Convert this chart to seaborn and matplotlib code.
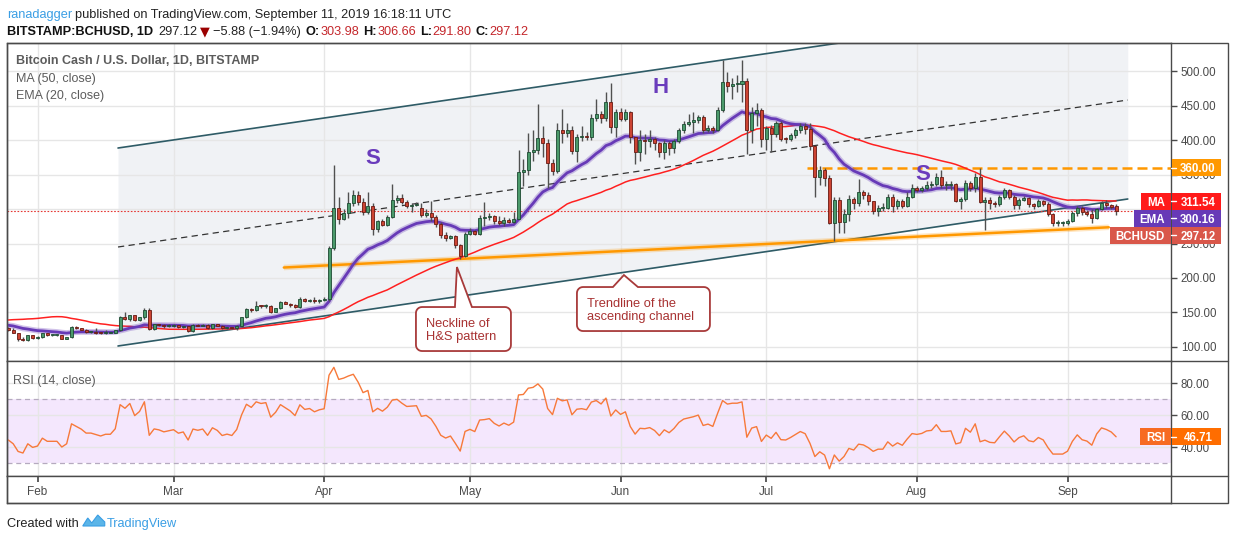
import numpy as np
import pandas as pd
import matplotlib
matplotlib.use("Agg")
import matplotlib.pyplot as plt
import seaborn as sns
from matplotlib.patches import Rectangle, Polygon
from matplotlib.transforms import Affine2D, blended_transform_factory
from matplotlib.ticker import FuncFormatter

W, H = 1234, 540

# ---------------- data ----------------
first_day = "2019-01-26"
# closes before the visible window (only used to warm up MA / EMA / RSI)
warmup_closes = [95, 97, 100, 95, 92, 98, 88, 82, 78, 80,
                 105, 118, 160, 205, 180, 195, 190, 210, 180, 175,
                 155, 175, 162, 168, 155, 165, 172, 160, 162, 160,
                 168, 160, 155, 158, 135, 133, 130, 122, 132, 126,
                 128, 128, 125, 129, 121, 122, 124, 122, 124, 127]

opens_jan = [127, 125, 121, 112, 110, 117]
highs_jan = [129, 127, 121, 114, 118, 118]
lows_jan = [123, 120, 109, 108, 109, 111]
closes_jan = [125, 121, 112, 110, 117, 113]

opens_feb = [113, 114, 120, 117, 117, 117, 112, 114, 129, 127, 125, 122, 122, 121, 120, 121, 121, 124, 143, 141,
             146, 139, 143, 154, 126, 133, 132, 130]
highs_feb = [116, 121, 121, 118, 118, 118, 115, 130, 130, 128, 126, 123, 127, 122, 124, 122, 125, 145, 150, 147,
             147, 144, 156, 157, 134, 134, 133, 133]
lows_feb = [111, 113, 116, 116, 116, 111, 111, 113, 126, 124, 121, 120, 119, 119, 119, 120, 120, 123, 139, 138,
            138, 138, 141, 124, 125, 130, 127, 129]
closes_feb = [114, 120, 117, 117, 117, 112, 114, 129, 127, 125, 122, 122, 121, 120, 121, 121, 124, 143, 141, 146,
              139, 143, 154, 126, 133, 132, 130, 131]

opens_mar = [131, 132, 129, 130, 123, 132, 131, 132, 127, 133, 131, 127, 128, 127, 131, 143, 155, 153, 160, 159,
             160, 151, 156, 165, 163, 161, 158, 170, 167, 168, 166]
highs_mar = [133, 132, 131, 131, 133, 133, 133, 134, 134, 134, 132, 129, 129, 132, 144, 157, 157, 166, 161, 162,
             161, 157, 167, 166, 164, 162, 172, 171, 170, 172, 170]
lows_mar = [129, 128, 128, 122, 122, 130, 130, 126, 126, 130, 126, 126, 126, 125, 131, 142, 151, 152, 157, 157,
            149, 150, 155, 162, 158, 156, 157, 165, 165, 164, 164]
closes_mar = [132, 129, 130, 123, 132, 131, 132, 127, 133, 131, 127, 128, 127, 131, 143, 155, 153, 160, 159, 160,
              151, 156, 165, 163, 161, 158, 170, 167, 168, 166, 168]

opens_apr = [168, 169, 243, 301, 286, 294, 308, 320, 310, 296, 305, 271, 282, 277, 289, 313, 316, 310, 305, 306,
             302, 292, 294, 289, 278, 263, 258, 261, 248, 232]
highs_apr = [172, 246, 364, 318, 300, 325, 327, 326, 316, 325, 309, 284, 285, 292, 336, 320, 322, 313, 308, 310,
             308, 300, 312, 291, 281, 266, 263, 262, 250, 266]
lows_apr = [166, 167, 240, 278, 284, 287, 305, 306, 291, 293, 262, 266, 275, 275, 287, 308, 307, 302, 295, 304,
            288, 289, 282, 274, 258, 254, 256, 244, 228, 231]
closes_apr = [169, 243, 301, 286, 294, 308, 320, 310, 296, 305, 271, 282, 277, 289, 313, 316, 310, 305, 306, 307,
              292, 294, 289, 278, 263, 258, 261, 248, 232, 264]

opens_may = [264, 268, 264, 287, 288, 290, 283, 279, 284, 281, 286, 354, 356, 382, 386, 403, 396, 366, 355, 415,
             410, 414, 384, 404, 406, 404, 432, 438, 432, 455, 419]
highs_may = [272, 270, 292, 310, 294, 292, 290, 288, 287, 295, 385, 372, 410, 415, 452, 420, 402, 372, 425, 445,
             425, 420, 408, 420, 412, 437, 460, 442, 470, 482, 445]
lows_may = [262, 262, 262, 276, 284, 278, 277, 276, 279, 279, 285, 334, 350, 370, 380, 375, 330, 350, 352, 395,
            405, 380, 368, 398, 400, 400, 428, 425, 428, 410, 405]
closes_may = [268, 264, 287, 288, 290, 283, 279, 284, 281, 286, 354, 356, 382, 386, 403, 396, 366, 355, 415, 410,
              414, 384, 404, 406, 404, 432, 438, 432, 455, 419, 441]

opens_jun = [441, 431, 440, 405, 383, 400, 399, 402, 395, 382, 396, 389, 399, 414, 423, 426, 429, 433, 415, 418,
             415, 444, 484, 478, 481, 481, 485, 415, 439, 443]
highs_jun = [446, 445, 442, 405, 414, 408, 415, 405, 397, 400, 399, 402, 418, 428, 438, 440, 436, 436, 422, 421,
             448, 516, 498, 490, 494, 516, 490, 448, 454, 446]
lows_jun = [428, 428, 395, 365, 370, 380, 390, 385, 375, 372, 378, 381, 395, 410, 420, 410, 425, 410, 412, 410,
            413, 440, 470, 460, 470, 455, 380, 396, 420, 390]
closes_jun = [431, 440, 405, 383, 400, 399, 402, 395, 382, 396, 389, 399, 414, 423, 426, 429, 433, 415, 418, 414,
              444, 484, 478, 481, 481, 485, 415, 439, 443, 401]

opens_jul = [401, 418, 408, 424, 402, 401, 407, 414, 421, 416, 391, 347, 357, 345, 280, 313, 281, 293, 315, 308,
             324, 321, 311, 297, 302, 302, 318, 305, 312, 305, 318]
highs_jul = [420, 422, 428, 427, 405, 410, 418, 425, 425, 424, 392, 362, 360, 350, 318, 318, 300, 320, 318, 343,
             328, 325, 312, 306, 308, 322, 322, 315, 315, 325, 336]
lows_jul = [385, 383, 404, 399, 396, 398, 403, 410, 408, 386, 317, 335, 333, 278, 253, 265, 265, 282, 300, 304,
            315, 306, 293, 290, 297, 300, 295, 300, 302, 303, 316]
closes_jul = [418, 408, 424, 402, 401, 407, 414, 421, 416, 391, 347, 357, 345, 280, 313, 281, 293, 315, 308, 324,
              321, 311, 297, 302, 302, 318, 305, 312, 305, 318, 330]

opens_aug = [330, 328, 330, 335, 336, 347, 335, 335, 336, 312, 314, 338, 331, 347, 310, 313, 308, 307, 317, 327,
             318, 306, 313, 316, 307, 305, 311, 307, 293, 280, 280]
highs_aug = [334, 334, 340, 340, 352, 356, 340, 341, 338, 318, 342, 340, 352, 359, 318, 318, 312, 320, 330, 329,
             320, 316, 319, 318, 309, 315, 313, 310, 294, 284, 283]
lows_aug = [324, 325, 328, 330, 333, 330, 328, 328, 310, 300, 312, 326, 325, 308, 270, 300, 303, 305, 315, 315,
            300, 300, 311, 303, 300, 303, 305, 290, 275, 276, 276]
closes_aug = [328, 330, 335, 336, 347, 335, 335, 336, 312, 314, 338, 331, 347, 310, 313, 308, 307, 317, 327, 318,
              306, 313, 316, 307, 305, 311, 307, 293, 280, 280, 280]

opens_sep = [280, 283, 294, 302, 295, 293, 287, 300, 308, 306, 303.98]
highs_sep = [285, 297, 305, 304, 298, 300, 302, 312, 313, 307, 306.66]
lows_sep = [277, 281, 290, 292, 290, 280, 285, 298, 302, 300, 291.80]
closes_sep = [283, 294, 302, 295, 293, 287, 300, 308, 306, 303, 297.12]

last_close = 297.12
ma50_last = 311.54
ema20_last = 300.16
rsi_last = 46.71
resistance_level = 360.00
price_ticks = [100, 150, 200, 250, 300, 350, 400, 450, 500]
rsi_ticks = [40, 60, 80]

# drawn overlays (day offsets from Feb 1, price)
channel_days = [16.57, 224.4]
channel_lower = [101.45, 314.5]
channel_width = 286.95
neckline_days = [50.7, 220.5]
neckline_prices = [215.2, 273.5]
resistance_start_day = 158.4
pattern_labels = [("S", 69.05, 373.9), ("H", 128.3, 475.4), ("S", 182.2, 350.7)]

# ---------------- assemble ----------------
opens = np.array(opens_jan + opens_feb + opens_mar + opens_apr + opens_may + opens_jun + opens_jul + opens_aug + opens_sep, float)
highs = np.array(highs_jan + highs_feb + highs_mar + highs_apr + highs_may + highs_jun + highs_jul + highs_aug + highs_sep, float)
lows = np.array(lows_jan + lows_feb + lows_mar + lows_apr + lows_may + lows_jun + lows_jul + lows_aug + lows_sep, float)
closes = np.array(closes_jan + closes_feb + closes_mar + closes_apr + closes_may + closes_jun + closes_jul + closes_aug + closes_sep, float)

dates = pd.date_range(first_day, periods=len(closes), freq="D")
t0 = pd.Timestamp("2019-02-01")
xd = np.asarray((dates - t0).days, float)

allc = pd.Series(list(warmup_closes) + list(closes))
nw = len(warmup_closes)
ma50 = allc.rolling(50).mean().values[nw:]
ema20 = allc.ewm(span=20, adjust=False).mean().values[nw:]
delta = allc.diff()
gain = delta.clip(lower=0).ewm(alpha=1 / 14, adjust=False).mean()
loss = (-delta.clip(upper=0)).ewm(alpha=1 / 14, adjust=False).mean()
rsi = (100 - 100 / (1 + gain / loss)).values[nw:]

month_pos = xd[dates.day == 1]
month_names = [d.strftime("%b") for d in dates[dates.day == 1]]

# ---------------- figure ----------------
sns.set_theme(style="white")
plt.rcParams["font.family"] = ["Liberation Sans", "DejaVu Sans"]
fig = plt.figure(figsize=(W / 100, H / 100), dpi=100)
fig.patch.set_facecolor("white")
pix = Affine2D().scale(1, -1).translate(0, H)


def rect(x0, y0, x1, y1):
    return [x0 / W, 1 - y1 / H, (x1 - x0) / W, (y1 - y0) / H]


FRAME = "#4a4a4a"
GRID = "#e6e6e6"
ax = fig.add_axes(rect(7, 43, 1171, 361))
axr = fig.add_axes(rect(7, 361, 1171, 476), sharex=ax)
axx = fig.add_axes(rect(7, 476, 1171, 503), sharex=ax)

XL = (-6.28, 233.3)
ax.set_xlim(*XL)
ax.set_ylim(79.7, 540.6)
axr.set_ylim(22.1, 93.9)
axx.set_ylim(0, 1)

for a in (ax, axr, axx):
    a.set_facecolor("white")
    for s in a.spines.values():
        s.set_color(FRAME)
        s.set_linewidth(1)
    a.set_axisbelow(True)

# grid
ax.set_xticks(month_pos)
ax.set_yticks(price_ticks)
ax.grid(True, color=GRID, lw=1)
axr.set_yticks(rsi_ticks)
axr.grid(True, color=GRID, lw=1)
for a in (ax, axr):
    a.tick_params(axis="x", length=0, labelbottom=False)
    a.yaxis.tick_right()
    a.tick_params(axis="y", direction="out", length=4, width=1, color=FRAME,
                  labelsize=8.3, labelcolor="#4a4a4a", pad=3)
    a.yaxis.set_major_formatter(FuncFormatter(lambda v, p: f"{v:.2f}"))
axx.set_yticks([])
axx.tick_params(axis="x", which="both", top=True, bottom=False, direction="in",
                length=4, color=FRAME, labelbottom=False)
bt = blended_transform_factory(axx.transData, axx.transAxes)
for pos, name in zip(month_pos, month_names):
    axx.text(pos, 0.42, name, transform=bt, ha="center", va="center",
             fontsize=8.5, color="#4a4a4a")

# channel fill + lines
cd = np.array(channel_days)
lo = np.array(channel_lower)
up = lo + channel_width
ax.fill_between(cd, lo, up, color="#f0f2f5", zorder=0.1, lw=0)
ax.plot(cd, lo, color="#2e5b66", lw=1.2, zorder=2)
ax.plot(cd, up, color="#2e5b66", lw=1.2, zorder=2)
ax.plot(cd, (lo + up) / 2, color="#333333", lw=0.9, ls=(0, (5, 3.5)), zorder=2)

# neckline + resistance
ax.plot(neckline_days, neckline_prices, color="#ff9800", lw=4, alpha=0.25, zorder=2, solid_capstyle="butt")
ax.plot(neckline_days, neckline_prices, color="#ff9800", lw=1.8, zorder=2.1)
ax.plot([resistance_start_day, XL[1]], [resistance_level, resistance_level], color="#ff9800",
        lw=1.8, ls=(0, (4, 2)), zorder=2.1)

# last price dotted
ax.axhline(last_close, color="#e53935", lw=0.8, ls=(0, (1.5, 1.5)), zorder=2)

# moving averages (seaborn)
sns.lineplot(x=xd, y=ma50, ax=ax, color="#ff2020", lw=1.1, zorder=3)
sns.lineplot(x=xd, y=ema20, ax=ax, color="#673ab7", lw=4.2, alpha=0.3, zorder=3)
sns.lineplot(x=xd, y=ema20, ax=ax, color="#673ab7", lw=2.0, zorder=3.1)

# candles
upm = closes >= opens
bot = np.minimum(opens, closes)
hgt = np.maximum(np.abs(closes - opens), 1.3)
ax.vlines(xd, lows, highs, color="#505050", lw=1, zorder=4)
ax.bar(xd[upm], hgt[upm], bottom=bot[upm], width=0.62, color="#4b9a6b",
       edgecolor="#1d4a32", lw=0.6, zorder=5)
ax.bar(xd[~upm], hgt[~upm], bottom=bot[~upm], width=0.62, color="#cc4433",
       edgecolor="#6a1a12", lw=0.6, zorder=5)

for s, d, p in pattern_labels:
    ax.text(d, p, s, ha="center", va="center", fontsize=16, fontweight="bold",
            color="#6a3cbc", zorder=6)

ax.set_xlabel("")
ax.set_ylabel("")

# RSI panel
axr.axhspan(30, 70, color="#f4e7fd", zorder=0.05, lw=0)
axr.axhline(70, color="#b5aabf", lw=0.9, ls=(0, (4, 3)), zorder=1)
axr.axhline(30, color="#b5aabf", lw=0.9, ls=(0, (4, 3)), zorder=1)
sns.lineplot(x=xd, y=rsi, ax=axr, color="#f7793a", lw=1.0, zorder=3)
axr.set_xlabel("")
axr.set_ylabel("")
axr.set_xlim(*XL)

# ---------------- texts / decorations in pixel space ----------------
fig.add_artist(Rectangle((7, 43), 1221, 460, transform=pix, fill=False, ec=FRAME, lw=1))
for yy in (361, 476):
    fig.add_artist(plt.Line2D([1171, 1228], [yy, yy], transform=pix, color=FRAME, lw=1))

renderer = fig.canvas.get_renderer()


def seq(x, y, parts, size):
    for s, kw, gap in parts:
        t = fig.text(x, y, s, transform=pix, va="baseline", ha="left", fontsize=size, **kw)
        x += t.get_window_extent(renderer).width + gap
    return x


RED = "#c4262b"
seq(7, 18, [("ranadagger", dict(color="#3a9ee4"), 3.2),
            ("published on TradingView.com, September 11, 2019 16:18:11 UTC", dict(color="#222222"), 0)], 9.2)
seq(7, 35, [("BITSTAMP:BCHUSD, 1D", dict(color="#111111", fontweight="bold"), 5),
            ("297.12", dict(color="#222222"), 3),
            ("\u25BC", dict(color="#9b0000", family=["DejaVu Sans"]), 3),
            ("\u22125.88 (\u22121.94%)", dict(color="#222222"), 5),
            ("O:", dict(color="#111111", fontweight="bold"), 0.5),
            ("303.98", dict(color=RED), 4),
            ("H:", dict(color="#111111", fontweight="bold"), 0.5),
            ("306.66", dict(color=RED), 4),
            ("L:", dict(color="#111111", fontweight="bold"), 0.5),
            ("291.80", dict(color=RED), 4),
            ("C:", dict(color="#111111", fontweight="bold"), 0.5),
            ("297.12", dict(color=RED), 0)], 9.2)

fig.text(16, 64, "Bitcoin Cash / U.S. Dollar, 1D, BITSTAMP", transform=pix, fontsize=9,
         color="#5c5c5c", fontweight="bold", va="baseline")
fig.text(16, 82, "MA (50, close)", transform=pix, fontsize=9, color="#5c5c5c", va="baseline")
fig.text(16, 99, "EMA (20, close)", transform=pix, fontsize=9, color="#5c5c5c", va="baseline")
fig.text(13, 384, "RSI (14, close)", transform=pix, fontsize=9, color="#5c5c5c", va="baseline")

# bottom credit
x = seq(7, 527, [("Created with", dict(color="#222222"), 4)], 9.2)
logo = Polygon([(x, 526), (x + 5, 518), (x + 9, 523), (x + 15, 515), (x + 22, 522), (x + 22, 526)],
               closed=True, transform=pix, fc="#5bb5e8", ec="#3a9ee4", lw=0.8)
fig.add_artist(logo)
fig.text(x + 24, 527, "TradingView", transform=pix, fontsize=9.2, color="#3a9ee4", va="baseline")


def ypix(a, v):
    return H - a.transData.transform((0, v))[1]


def axis_label(yc, value_txt, color, name=None, name_color=None):
    bh = 17
    fig.add_artist(Rectangle((1172, yc - bh / 2), 49, bh, transform=pix, fc=color, ec="none", zorder=5))
    fig.add_artist(plt.Line2D([1171, 1176], [yc, yc], transform=pix, color="white", lw=1, zorder=6))
    fig.text(1198, yc, value_txt, transform=pix, fontsize=8.3, fontweight="bold", color="white",
             ha="center", va="center_baseline", zorder=7)
    if name:
        t = fig.text(1165, yc, name, transform=pix, fontsize=8.3, fontweight="bold", color="white",
                     ha="right", va="center_baseline", zorder=7)
        w = t.get_window_extent(renderer).width
        fig.add_artist(Rectangle((1165 - w - 6, yc - bh / 2), w + 6 + 6, bh, transform=pix,
                                 fc=name_color or color, ec="none", zorder=5))


axis_label(ypix(ax, resistance_level), f"{resistance_level:.2f}", "#ff9800")
stack = [("MA", ma50_last, "#ff1a1a"), ("EMA", ema20_last, "#673ab7"), ("BCHUSD", last_close, "#d9574a")]
prev = -1e9
for name, val, col in sorted(stack, key=lambda s: -s[1]):
    yc = max(ypix(ax, val), prev + 17)
    axis_label(yc, f"{val:.2f}", col, name)
    prev = yc
axis_label(ypix(axr, rsi_last), f"{rsi_last:.2f}", "#ff6d00", "RSI", "#f76b22")


# callouts
def callout(anchor, box, tail, lines, r=6):
    disp = ax.transData.transform(anchor)
    apx, apy = disp[0], H - disp[1]
    x0, y0, x1, y1 = apx + box[0], apy + box[1], apx + box[2], apy + box[3]
    bx0, bx1 = apx + tail[0], apx + tail[1]
    pts = []

    def arc(cx, cy, a0, a1):
        for a in np.linspace(a0, a1, 7):
            pts.append((cx + r * np.cos(a), cy + r * np.sin(a)))

    arc(x0 + r, y0 + r, np.pi, 1.5 * np.pi)
    pts += [(bx0, y0), (apx, apy), (bx1, y0)]
    arc(x1 - r, y0 + r, 1.5 * np.pi, 2 * np.pi)
    arc(x1 - r, y1 - r, 0, 0.5 * np.pi)
    arc(x0 + r, y1 - r, 0.5 * np.pi, np.pi)
    fig.add_artist(Polygon(pts, closed=True, transform=pix, fc="white", ec="#a83a3a", lw=1.3, zorder=4))
    ty = y0 + (y1 - y0) / 2
    fig.text(x0 + 10, ty - 6.5, lines[0], transform=pix, fontsize=9.3, color="#a83232",
             va="center_baseline", ha="left", zorder=5)
    fig.text(x0 + 10, ty + 6.5, lines[1], transform=pix, fontsize=9.3, color="#a83232",
             va="center_baseline", ha="left", zorder=5)


callout((86.33, 215.9), (-41, 40, 54, 84), (-2, 15), ["Neckline of", "H&S pattern"])
callout((120.7, 204.3), (-47, 12, 86, 56), (-11, 14), ["Trendline of the", "ascending channel"])

fig.savefig("out.png", dpi=100, facecolor="white")
